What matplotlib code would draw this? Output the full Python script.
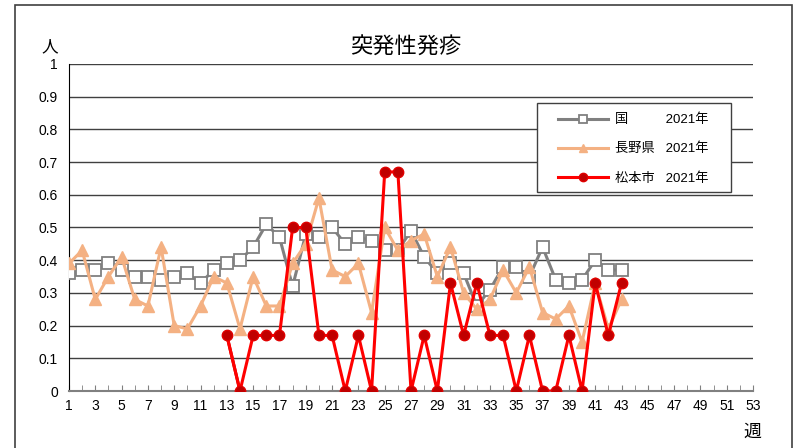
import matplotlib
matplotlib.use("Agg")
import matplotlib.pyplot as plt
from matplotlib.patches import Rectangle
from matplotlib.ticker import MultipleLocator

plt.rcParams['font.family'] = ['Liberation Sans', 'Noto Sans CJK JP']

title = "突発性発疹"
weeks = list(range(1, 44))

# national average
national = [0.36, 0.37, 0.37, 0.39, 0.37, 0.35, 0.35, 0.34, 0.35, 0.36,
            0.33, 0.37, 0.39, 0.40, 0.44, 0.51, 0.47, 0.32, 0.48, 0.47,
            0.50, 0.45, 0.47, 0.46, 0.43, 0.43, 0.49, 0.41, 0.36, 0.39,
            0.36, 0.26, 0.31, 0.38, 0.38, 0.35, 0.44, 0.34, 0.33, 0.34,
            0.40, 0.37, 0.37]
# Nagano prefecture
nagano = [0.39, 0.43, 0.28, 0.35, 0.41, 0.28, 0.26, 0.44, 0.20, 0.19,
          0.26, 0.35, 0.33, 0.19, 0.35, 0.26, 0.26, 0.39, 0.45, 0.59,
          0.37, 0.35, 0.39, 0.24, 0.50, 0.43, 0.46, 0.48, 0.35, 0.44,
          0.30, 0.25, 0.28, 0.37, 0.30, 0.38, 0.24, 0.22, 0.26, 0.15,
          0.33, 0.19, 0.28]
# Matsumoto city (from week 13)
matsu_weeks = list(range(13, 44))
matsumoto = [0.17, 0.00, 0.17, 0.17, 0.17, 0.50, 0.50, 0.17, 0.17, 0.00,
             0.17, 0.00, 0.67, 0.67, 0.00, 0.17, 0.00, 0.33, 0.17, 0.33,
             0.17, 0.17, 0.00, 0.17, 0.00, 0.00, 0.17, 0.00, 0.33, 0.17,
             0.33]

labels = ["国　　   2021年", "長野県   2021年", "松本市   2021年"]

fig = plt.figure(figsize=(8.02, 4.48), dpi=100)
ax = fig.add_axes([0.086, 0.1272, 0.853, 0.730])

# outer frame of the chart
fig.patches.append(Rectangle((15 / 802, -0.05), (792 - 15) / 802, 1 - 5 / 448 + 0.05,
                             transform=fig.transFigure, fill=False,
                             edgecolor='#404040', linewidth=1.2))

ax.plot(weeks, national, color='#808080', linewidth=2.2, marker='s',
        markersize=8, markerfacecolor='white', markeredgecolor='#808080',
        markeredgewidth=1.3, label=labels[0], zorder=3)
ax.plot(weeks, nagano, color='#F4B183', linewidth=2.2, marker='^',
        markersize=8, markerfacecolor='#F4B183', markeredgecolor='#F4B183',
        label=labels[1], zorder=4)
ax.plot(matsu_weeks, matsumoto, color='#FF0000', linewidth=2.2, marker='o',
        markersize=7.5, markerfacecolor='#C00000', markeredgecolor='#E00000',
        label=labels[2], zorder=5)
# first segment of the city series is drawn darker in the original
ax.plot(matsu_weeks[:2], matsumoto[:2], color='#C00000', linewidth=2.2, zorder=4.9)

ax.set_xlim(1, 53)
ax.set_ylim(0, 1)
ax.set_xticks(range(1, 54, 2))
ax.xaxis.set_minor_locator(MultipleLocator(1))
ax.set_yticks([i / 10 for i in range(11)])
ax.set_yticklabels(["0"] + ["%.1f" % (i / 10) for i in range(1, 10)] + ["1"])
ax.tick_params(axis='x', which='both', direction='in', length=4,
               color='#808080', labelsize=10, pad=6)
ax.tick_params(axis='y', length=0, labelsize=10, pad=8)
ax.grid(axis='y', color='#404040', linewidth=1)
ax.set_axisbelow(True)
for s in ['top', 'right']:
    ax.spines[s].set_visible(False)
ax.spines['left'].set_color('black')
ax.spines['bottom'].set_color('#808080')
ax.spines['bottom'].set_linewidth(1.5)
ax.spines['bottom'].set_zorder(2.5)

fig.text(0.506, 0.88, title, ha='center', fontsize=16)
fig.text(0.062, 0.885, "人", ha='center', fontsize=12)
fig.text(0.938, 0.025, "週", ha='center', fontsize=13)

# legend box drawn separately for wider side padding
ax.add_patch(Rectangle((0.684, 0.6086), 0.2836, 0.272, transform=ax.transAxes,
                       facecolor='white', edgecolor='#404040', linewidth=1,
                       zorder=6))
leg = ax.legend(loc='upper left', bbox_to_anchor=(0.705, 0.868),
                frameon=False, fontsize=9.5, handlelength=3.8,
                labelspacing=1.25, borderpad=0, handletextpad=0.5,
                markerscale=0.8)
leg.set_zorder(7)

plt.savefig("out.png", dpi=100)
